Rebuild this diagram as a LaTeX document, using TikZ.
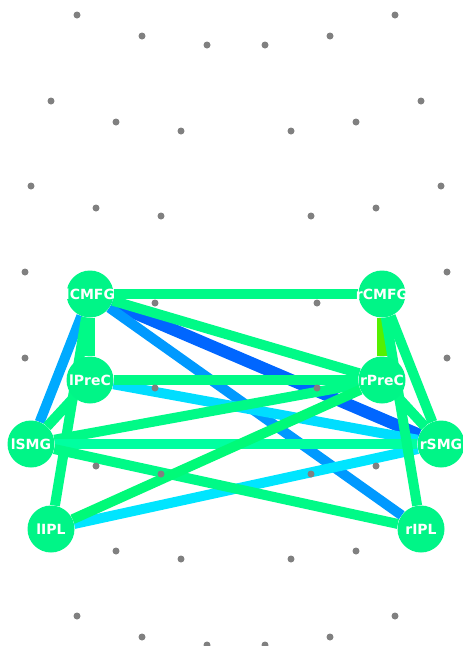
\documentclass[tikz,border=0pt]{standalone}
\usepackage{fontspec}
\setsansfont{DejaVu Sans}
\usepackage{tikz}
\usetikzlibrary{backgrounds}
\definecolor{regiongreen}{HTML}{00F587}
\definecolor{edgegreen}{HTML}{00FA87}
\definecolor{edgemint}{HTML}{00FFA0}
\definecolor{edgespring}{HTML}{00FA78}
\definecolor{edgelime}{HTML}{55F000}
\definecolor{edgeblue}{HTML}{0066FF}
\definecolor{edgeazure}{HTML}{0099FF}
\definecolor{edgesky}{HTML}{00AAFF}
\definecolor{edgecyan}{HTML}{00DDFF}
\definecolor{edgeaqua}{HTML}{00E5FF}
\newcommand{\roiname}[1]{\makebox[0pt]{#1}}
\tikzstyle{region} = [circle, minimum size=47pt, inner sep=0pt, fill=regiongreen, text=white, font=\sffamily\bfseries\fontsize{14}{14}\selectfont]
\tikzstyle{link} = [line width=10pt]
\tikzstyle{sensor} = [circle, fill=gray, inner sep=0pt, minimum size=7pt]

\begin{document}
\begin{tikzpicture}[x=1pt, y=-1pt]
  \useasboundingbox (0,0) rectangle (463,646);

  \node (lCMFG) [region] at (90,294) {\roiname{lCMFG}};
  \node (rCMFG) [region] at (382,294) {\roiname{rCMFG}};
  \node (lPreC) [region] at (90,380) {\roiname{lPreC}};
  \node (rPreC) [region] at (382,380) {\roiname{rPreC}};
  \node (lSMG) [region] at (31,444) {\roiname{lSMG}};
  \node (rSMG) [region] at (441,444) {\roiname{rSMG}};
  \node (lIPL) [region] at (51,529) {\roiname{lIPL}};
  \node (rIPL) [region] at (421,529) {\roiname{rIPL}};

  \begin{scope}[on background layer]
    \draw[link, edgeblue, line width=12pt] (lCMFG) -- (rSMG);
    \draw[link, edgeazure] (lCMFG) -- (rIPL);
    \draw[link, edgesky] (lCMFG) -- (lSMG);
    \draw[link, edgecyan] (lPreC) -- (rSMG);
    \draw[link, edgeaqua] (lIPL) -- (rSMG);
    \draw[link, edgegreen] (lCMFG) -- (rCMFG);
    \draw[link, edgegreen] (lCMFG) -- (lPreC);
    \draw[link, edgegreen] (lCMFG) -- (lIPL);
    \draw[link, edgegreen] (lCMFG) -- (rPreC);
    \draw[link, edgegreen] (lPreC) -- (rPreC);
    \draw[link, edgegreen] (lPreC) -- (lSMG);
    \draw[link, edgegreen] (lSMG) -- (rPreC);
    \draw[link, edgemint] (lSMG) -- (rSMG);
    \draw[link, edgegreen] (lSMG) -- (rIPL);
    \draw[link, edgespring] (lIPL) -- (rPreC);
    \draw[link, edgelime] (rCMFG) -- (rPreC);
    \draw[link, edgegreen] (rCMFG) -- (rSMG);
    \draw[link, edgegreen] (rCMFG) -- (rIPL);
    \draw[link, edgegreen] (rPreC) -- (rSMG);

    % sensor grid, mirrored left/right
    \foreach \row/\xo/\xm/\xi/\yo/\ym/\yi in {
        0/77/142/207/15/36/45, 1/51/116/181/101/122/131,
        2/31/96/161/186/208/216, 3/25/90/155/272/294/303,
        4/25/90/155/358/380/388, 5/31/96/161/444/466/474,
        6/51/116/181/529/551/559, 7/77/142/207/616/637/645} {
      \node[sensor] (s\row a) at (\xo,\yo) {};
      \node[sensor] (s\row b) at (\xm,\ym) {};
      \node[sensor] (s\row c) at (\xi,\yi) {};
      \node[sensor] (s\row d) at (472-\xi,\yi) {};
      \node[sensor] (s\row e) at (472-\xm,\ym) {};
      \node[sensor] (s\row f) at (472-\xo,\yo) {};
    }
  \end{scope}
\end{tikzpicture}
\end{document}
